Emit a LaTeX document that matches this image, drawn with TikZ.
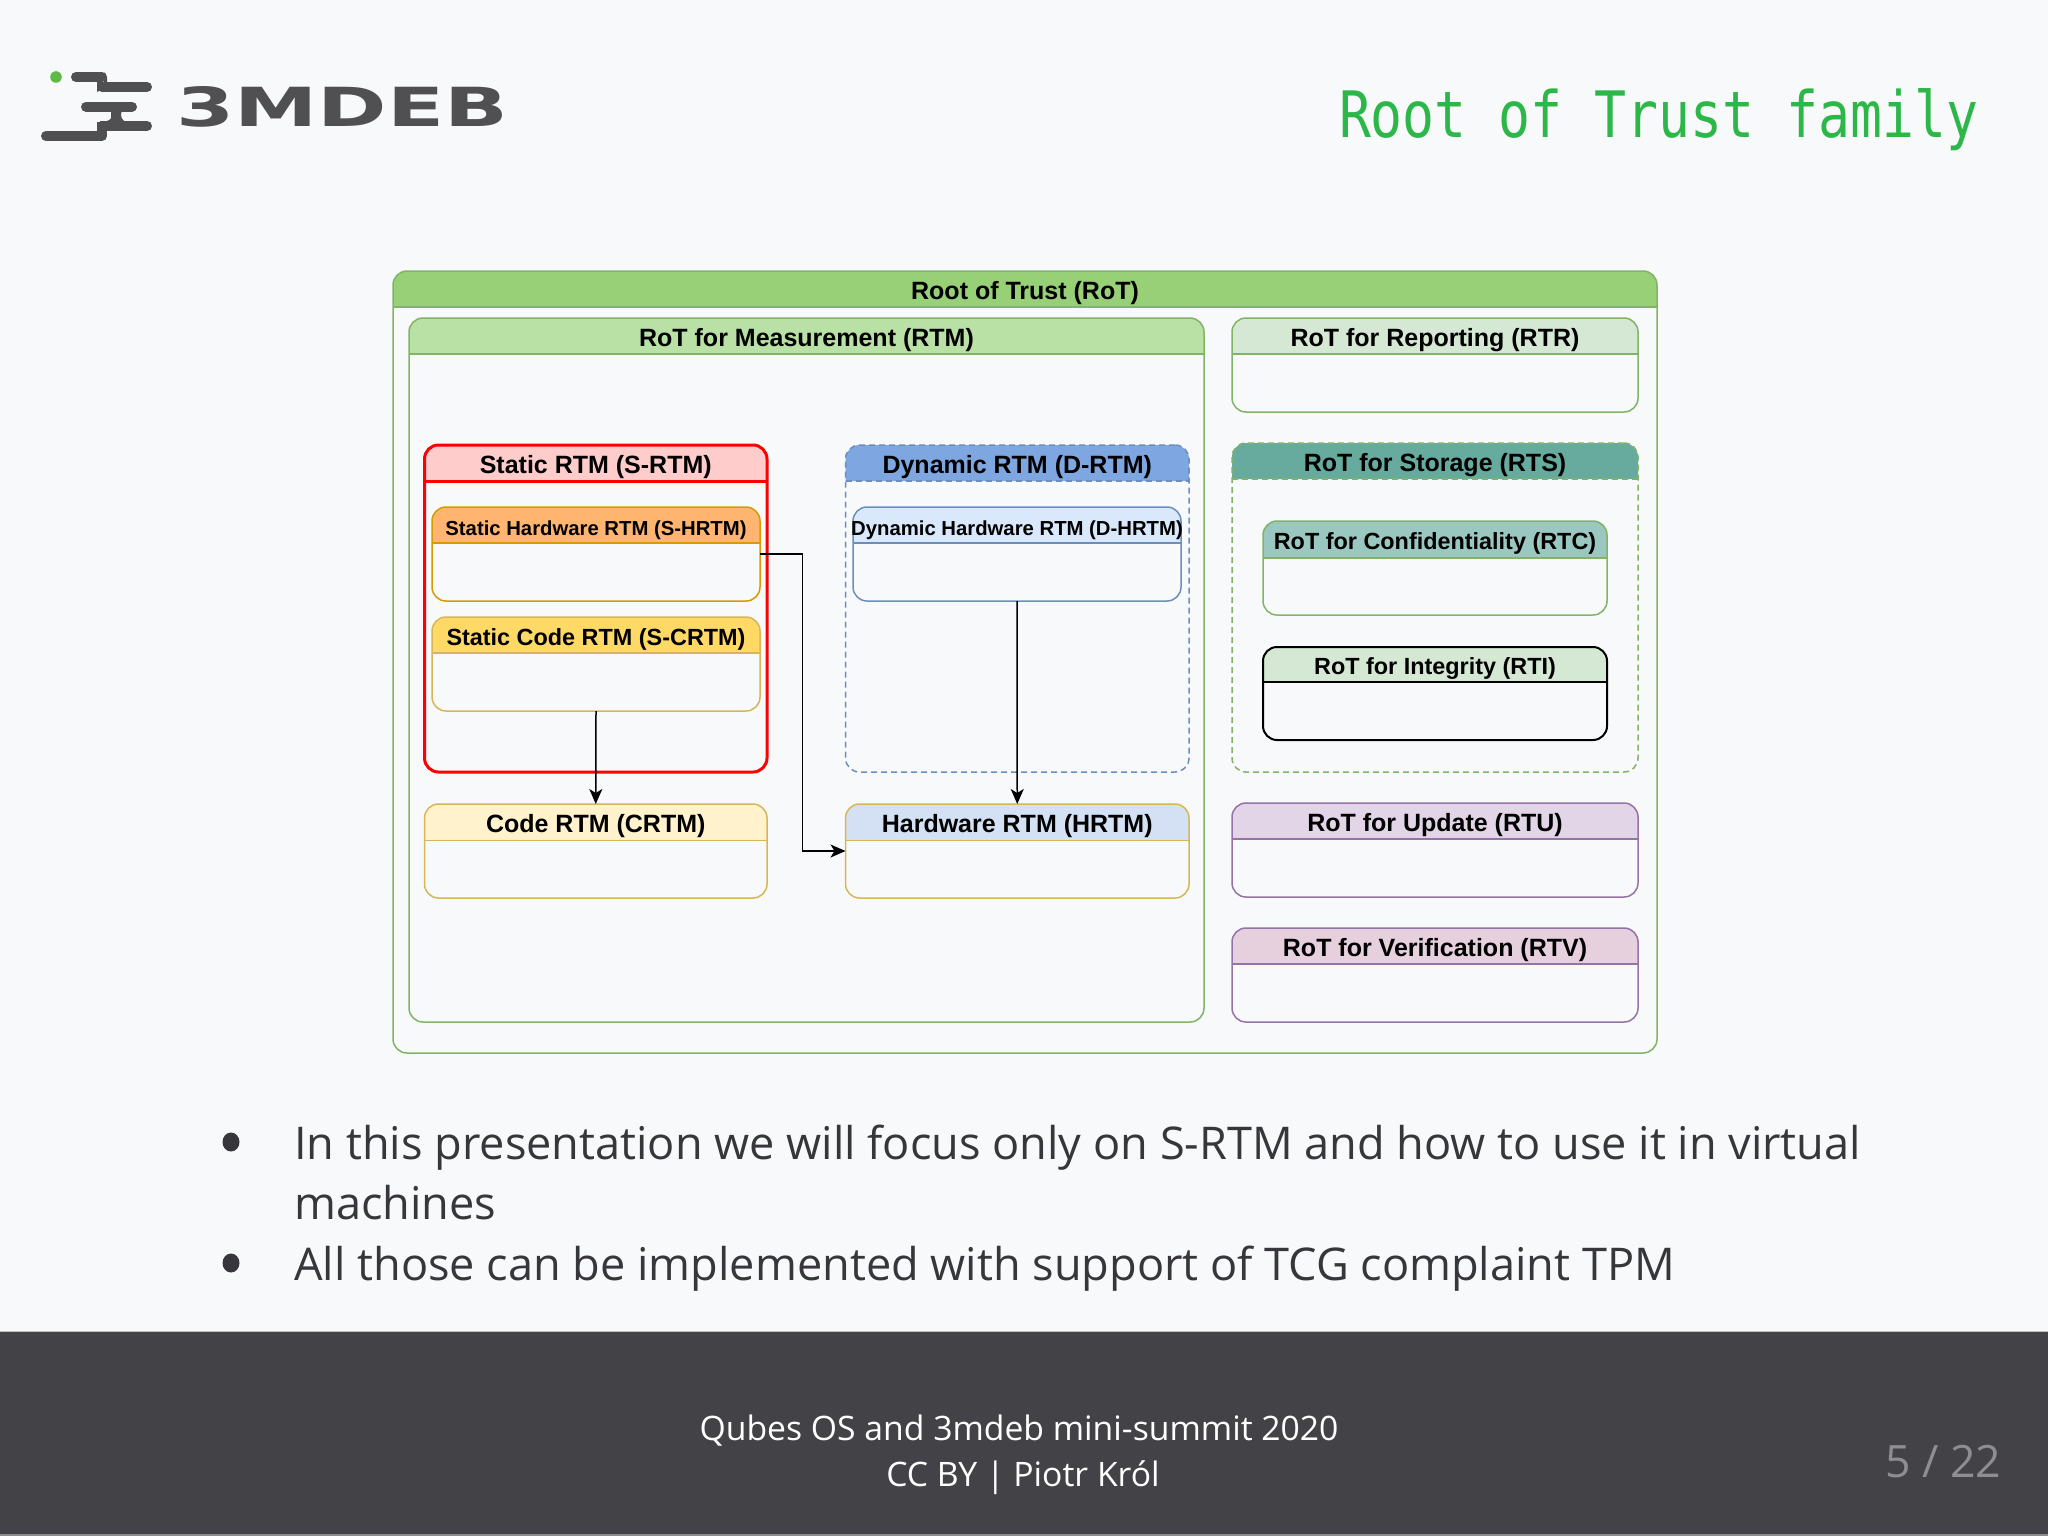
\documentclass[tikz,border=0pt]{standalone}
\usepackage{fontspec}
\usepackage{graphicx}
\setmainfont{Open Sans}
\newfontfamily\diafont{Liberation Sans}[BoldFont={Liberation Sans Bold}]
\newfontfamily\titlefont{DejaVu Sans Mono}
\newfontfamily\logofont{DejaVu Sans}
\usetikzlibrary{arrows.meta}
\definecolor{bgc}{HTML}{F8F9FB}
\definecolor{footc}{HTML}{434347}
\definecolor{logoc}{HTML}{505053}
\definecolor{bodyc}{HTML}{36363B}
\definecolor{gstroke}{HTML}{82B366}
\definecolor{bstroke}{HTML}{6C8EBF}
\definecolor{ystroke}{HTML}{D6B656}
\definecolor{ostroke}{HTML}{D79B00}
\definecolor{pstroke}{HTML}{9673A6}
\definecolor{hroot}{HTML}{97D077}
\definecolor{hrtm}{HTML}{B9E0A5}
\definecolor{hrtr}{HTML}{D5E8D4}
\definecolor{hsrtm}{HTML}{FFCCCC}
\definecolor{hdrtm}{HTML}{7EA6E0}
\definecolor{hshrtm}{HTML}{FFB570}
\definecolor{hscrtm}{HTML}{FFD966}
\definecolor{hdhrtm}{HTML}{DAE8FC}
\definecolor{hcrtm}{HTML}{FFF2CC}
\definecolor{hhrtm}{HTML}{D4E1F5}
\definecolor{hrts}{HTML}{67AB9F}
\definecolor{hrtc}{HTML}{9AC7BF}
\definecolor{hrtu}{HTML}{E1D5E7}
\definecolor{hrtv}{HTML}{E6D0DE}
\tikzset{
  frame/.style={rectangle,rounded corners=7pt,outer sep=0pt,inner sep=0pt,anchor=north west},
  lanetext/.style={font=\diafont\bfseries\fontsize{12.5}{15}\selectfont,text=black,inner sep=0pt,text height=.72em,text depth=.2em},
  green lane/.style={draw=gstroke,line width=.75pt},
  yellow lane/.style={draw=ystroke,line width=.75pt},
  orange lane/.style={draw=ostroke,line width=.75pt},
  blue lane/.style={draw=bstroke,line width=.75pt},
  purple lane/.style={draw=pstroke,line width=.75pt},
  red lane/.style={draw=red,line width=1.5pt},
  black lane/.style={draw=black,line width=1pt},
  dash lane/.style={dash pattern=on 3pt off 2pt},
  wire/.style={draw=black,line width=.75pt,-{Stealth[length=7.5pt,width=6.5pt,inset=2pt]}},
  logobar/.style={draw=logoc,line width=5pt,line cap=round},
  bodytext/.style={font=\fontsize{22.55}{27}\selectfont,text=bodyc,anchor=base west,inner sep=0pt},
  foottext/.style={font=\fontsize{16.85}{21}\selectfont,text=white,anchor=base,inner sep=0pt},
}
% style, name, x1, y1, x2, y2, header bottom, header fill, text
\newcommand{\lane}[9]{%
  \pgfmathsetlengthmacro{\lanew}{(#5-#3)*0.5}%
  \pgfmathsetlengthmacro{\laneh}{(#6-#4)*0.5}%
  \fill[#8,rounded corners=7pt] (#3,#7) -- (#3,#4) -- (#5,#4) [sharp corners] -- (#5,#7) -- cycle;
  \draw[#1] (#3,#7) -- (#5,#7);
  \node[frame,#1,minimum width=\lanew,minimum height=\laneh] (#2) at (#3,#4) {};
  \node[lanetext] (#2-t) at ({(#3+#5)/2},{(#4+#7)/2+5}) {#9};
}
\newcommand{\smalllab}{\fontsize{10.15}{13}\selectfont}
\newcommand{\midlab}{\fontsize{11.7}{14}\selectfont}
\begin{document}
\begin{tikzpicture}[x=0.5pt,y=-0.5pt]
\useasboundingbox (0,0) rectangle (2048,1536);
\fill[bgc] (0,0) rectangle (2048,1536);
% footer
\fill[footc] (0,1331) rectangle (2048,1534);
\fill[black!45] (0,1534) rectangle (2048,1536);
\fill[black!25] (0,1330.5) rectangle (2048,1331.5);
% logo
\fill[fill=logoc] (104,72) -- (107,78) -- (107,82) -- (97,82) -- (97,92) -- (104,88) -- cycle;
\draw[logobar] (76,77) -- (102,77);
\draw[logobar] (102,87) -- (147,87);
\draw[logobar] (86,106.7) -- (132,106.7);
\fill[fill=logoc] (111,108) -- (124,108) .. controls (120,112) and (120,118) .. (124,121) -- (100,121) -- (100,126) -- (97,131) -- (97,126) .. controls (97,122) and (110,122) .. (111,118) -- cycle;
\draw[logobar] (102,126) -- (147,126);
\draw[logobar] (46,136) -- (102,136);
\fill[fill=logoc] (97,122) -- (107,122) -- (107,136) -- (97,136) -- cycle;
\node[circle,fill={rgb,255:red,93;green,186;blue,71},minimum size=5.8pt,inner sep=0pt] (logodot) at (56,77) {};
\node[anchor=west,inner sep=0pt,text=logoc] (logotext) at (176,107) {\resizebox{166pt}{20pt}{\logofont\bfseries 3MDEB}};
% title
\node[anchor=base east,inner sep=0pt,text={rgb,255:red,45;green,183;blue,73}] (title) at (1979,137) {\scalebox{.83}[1]{\titlefont\fontsize{32}{38}\selectfont Root of Trust family}};
% swimlanes
\lane{green lane}{root}{393}{271}{1657}{1053}{307}{hroot}{Root of Trust (RoT)}
\lane{green lane}{rtm}{409}{318}{1204}{1022}{354}{hrtm}{RoT for Measurement (RTM)}
\lane{green lane}{rtr}{1232}{318}{1638}{412}{354}{hrtr}{RoT for Reporting (RTR)}
\lane{red lane}{srtm}{424.5}{445}{767}{772}{481}{hsrtm}{Static RTM (S-RTM)}
\lane{blue lane,dash lane}{drtm}{845.5}{445}{1189}{772}{481}{hdrtm}{Dynamic RTM (D-RTM)}
\lane{orange lane}{shrtm}{432}{507}{760}{601}{543}{hshrtm}{\smalllab Static Hardware RTM (S-HRTM)}
\lane{yellow lane}{scrtm}{432}{617}{760}{711}{653}{hscrtm}{\midlab Static Code RTM (S-CRTM)}
\lane{blue lane}{dhrtm}{853}{507}{1181}{601}{543}{hdhrtm}{\smalllab Dynamic Hardware RTM (D-HRTM)}
\lane{yellow lane}{crtm}{424.5}{804}{767}{898}{840.5}{hcrtm}{Code RTM (CRTM)}
\lane{yellow lane}{hrtm}{845.5}{804}{1189}{898}{840.5}{hhrtm}{Hardware RTM (HRTM)}
\lane{green lane,dash lane}{rts}{1232}{443}{1638}{772}{479}{hrts}{RoT for Storage (RTS)}
\lane{green lane}{rtc}{1263}{521}{1607}{615}{558}{hrtc}{\midlab RoT for Confidentiality (RTC)}
\lane{black lane}{rti}{1263}{647}{1607}{740}{682}{hrtr}{\midlab RoT for Integrity (RTI)}
\lane{purple lane}{rtu}{1232}{803}{1638}{897}{839}{hrtu}{RoT for Update (RTU)}
\lane{purple lane}{rtv}{1232}{928}{1638}{1022}{964}{hrtv}{RoT for Verification (RTV)}
% connectors
\draw[wire] (scrtm.south) -- (crtm.north);
\draw[wire] (dhrtm.south) -- (hrtm.north);
\draw[wire] (shrtm.east) -- ++(42.6,0) |- (hrtm.west);
% bullets
\fill[bodyc] (231,1142) ellipse [x radius=8.5,y radius=9.5];
\fill[bodyc] (231,1263) ellipse [x radius=8.5,y radius=9.5];
\node[bodytext] (b1) at (294,1159) {In this presentation we will focus only on S-RTM and how to use it in virtual};
\node[bodytext] (b1b) at (294,1219) {machines};
\node[bodytext] (b2) at (294,1280) {All those can be implemented with support of TCG complaint TPM};
% footer text
\node[foottext] (f1) at (1019,1440) {Qubes OS and 3mdeb mini-summit 2020};
\node[foottext] (f2) at (1023,1486) {CC BY | Piotr Król};
\node[foottext,anchor=base east,text={rgb,255:red,142;green,142;blue,146},font=\fontsize{22.3}{27}\selectfont] (pg) at (2001.5,1477) {5 / 22};
\end{tikzpicture}
\end{document}
